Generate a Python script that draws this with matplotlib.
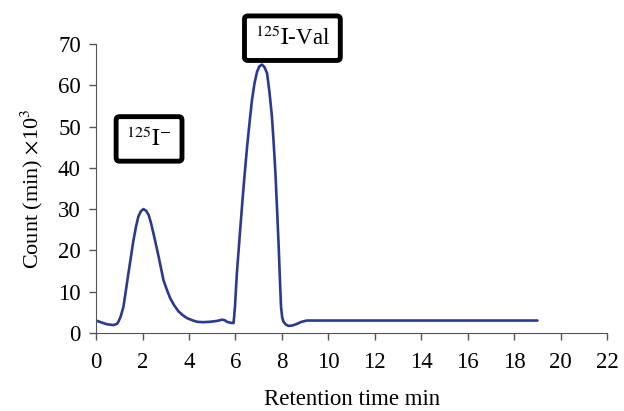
import matplotlib.pyplot as plt

plt.rcParams['font.family'] = ['Liberation Serif', 'DejaVu Serif']
plt.rcParams['mathtext.fontset'] = 'stix'

# retention time (min) and counts (x10^3)
time = [0.0, 0.25, 0.46, 0.75, 0.9, 0.96, 1.06, 1.18, 1.39, 1.61, 1.72,
        1.82, 1.93, 2.04, 2.15, 2.26, 2.36, 2.47, 2.69, 2.9, 3.05, 3.19,
        3.37, 3.55, 3.73, 3.91, 4.12, 4.34, 4.6, 4.91, 5.2, 5.42, 5.53,
        5.63, 5.75, 5.85, 5.92, 5.98, 6.06, 6.17, 6.28, 6.39, 6.5, 6.61,
        6.71, 6.82, 6.93, 7.03, 7.14, 7.25, 7.36, 7.46, 7.57, 7.65, 7.72,
        7.79, 7.86, 7.92, 7.96, 8.01, 8.07, 8.17, 8.29, 8.45, 8.65, 8.85,
        9.08, 12.0, 15.0, 19.0]
count = [3.0, 2.5, 2.1, 1.9, 2.2, 2.7, 4.0, 6.4, 14.4, 22.5, 25.8,
         28.2, 29.5, 30.0, 29.6, 28.6, 26.7, 24.1, 18.5, 12.8, 10.4, 8.4,
         6.6, 5.2, 4.3, 3.6, 3.1, 2.7, 2.6, 2.7, 2.9, 3.2, 3.1,
         2.7, 2.5, 2.4, 2.4, 6.5, 14.4, 22.6, 30.6, 38.1, 45.1, 51.2,
         56.4, 60.5, 63.3, 64.6, 65.0, 64.4, 62.9, 58.5, 52.4, 45.5, 38.7,
         30.0, 20.9, 12.0, 6.4, 3.8, 2.7, 2.0, 1.7, 1.8, 2.2, 2.7,
         3.0, 3.0, 3.0, 3.0]

xticks = list(range(0, 23, 2))
yticks = list(range(0, 71, 10))

fig = plt.figure(figsize=(6.24, 4.11), dpi=100)
ax = fig.add_axes([0.154, 0.19, 0.819, 0.703])

ax.plot(time, count, color='#2b3a8f', lw=1.9, solid_joinstyle='round',
        solid_capstyle='round')

ax.set_xlim(0, 22)
ax.set_ylim(0, 70)
ax.set_xticks(xticks)
ax.set_yticks(yticks)
ax.tick_params(direction='out', length=5, width=1, color='#555555',
               labelsize=16.5)
ax.tick_params(axis='x', pad=9)
ax.tick_params(axis='y', pad=6)
for side in ('top', 'right'):
    ax.spines[side].set_visible(False)
for side in ('left', 'bottom'):
    ax.spines[side].set_color('#555555')

ax.set_xlabel('Retention time min', fontsize=16.5, labelpad=11)
ax.set_ylabel(r'Count (min) $\times$10$^{3}$', fontsize=16, labelpad=9)

box = dict(boxstyle='round,pad=0.45,rounding_size=0.15', fc='white',
           ec='black', lw=3.5)
ax.text(2.28, 47, r'$^{125}\mathrm{I}^{-}$', fontsize=16.5, ha='center',
        va='center', bbox=box)
ax.text(8.45, 71.4, r'$^{125}\mathrm{I}$-Val', fontsize=16.5, ha='center',
        va='center', bbox=box, clip_on=False)

fig.savefig('out.png', dpi=100)
